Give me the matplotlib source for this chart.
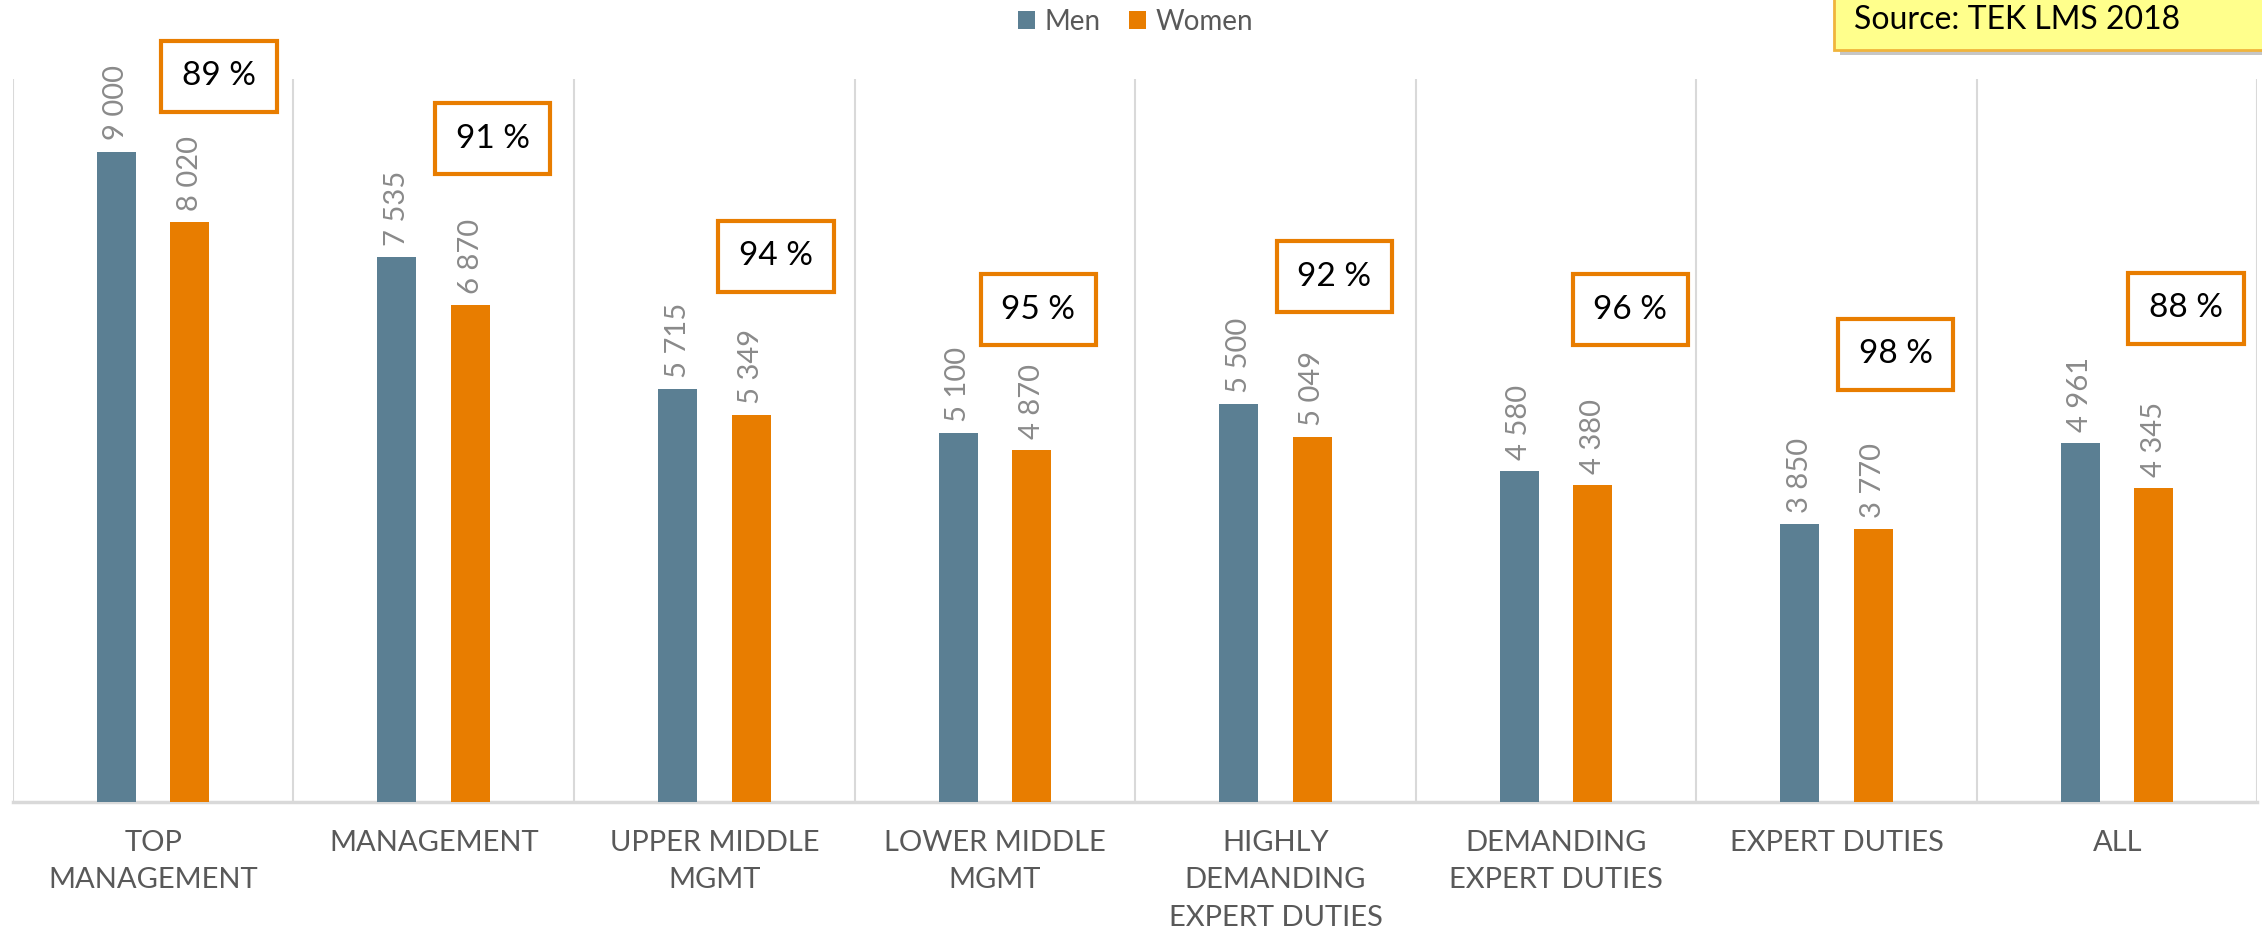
import numpy as np
import matplotlib
matplotlib.use('Agg')
import matplotlib.pyplot as plt
from matplotlib.patches import Rectangle

plt.rcParams['font.family'] = ['Lato', 'DejaVu Sans']

categories = ['TOP\nMANAGEMENT', 'MANAGEMENT', 'UPPER MIDDLE\nMGMT', 'LOWER MIDDLE\nMGMT',
              'HIGHLY\nDEMANDING\nEXPERT DUTIES', 'DEMANDING\nEXPERT DUTIES', 'EXPERT DUTIES', 'ALL']
men = [9000, 7535, 5715, 5100, 5500, 4580, 3850, 4961]
women = [8020, 6870, 5349, 4870, 5049, 4380, 3770, 4345]
source_text = 'Source: TEK LMS 2018'

# where the orange % boxes sit (x offset from category centre, y in data units)
box_dx = [0.235, 0.21, 0.22, 0.155, 0.21, 0.265, 0.21, 0.245]
box_y = [10040, 9180, 7550, 6810, 7270, 6810, 6195, 6830]

men_c = '#5B7F93'
women_c = '#E87D00'
grid_c = '#D9D9D9'
txt_c = '#595959'

def fmt(v):
    return '{:,}'.format(v).replace(',', ' ')

fig = plt.figure(figsize=(22.62, 9.36), dpi=100)
ax = fig.add_axes([0.0057, 0.1433, 0.9923, 0.772])

x = np.arange(len(categories))
w = 0.139
off = 0.131
b1 = ax.bar(x - off, men, w, color=men_c, label='Men', zorder=3)
b2 = ax.bar(x + off, women, w, color=women_c, label='Women', zorder=3)

for bars, vals in ((b1, men), (b2, women)):
    for r, v in zip(bars, vals):
        ax.annotate(fmt(v), (r.get_x() + r.get_width() / 2, v), xytext=(0, 8),
                    textcoords='offset points', rotation=90, ha='center', va='bottom',
                    fontsize=21, color='#8A8A8A')

for i in range(len(categories)):
    pct = round(100 * women[i] / men[i])
    ax.text(i + box_dx[i], box_y[i], '%d %%' % pct, ha='center', va='center',
            fontsize=24, color='black', clip_on=False, zorder=5,
            bbox=dict(boxstyle='square,pad=0.62', fc='white', ec=women_c, lw=3))

ax.set_xlim(-0.5, len(categories) - 0.5)
ax.set_ylim(0, 10000)
ax.set_yticks([])
for b in np.arange(-0.5, len(categories), 1.0):
    ax.axvline(b, color=grid_c, lw=1.5, zorder=1)
for s in ['top', 'right', 'left']:
    ax.spines[s].set_visible(False)
ax.spines['bottom'].set_color(grid_c)
ax.spines['bottom'].set_linewidth(2.5)
ax.set_xticks(x)
ax.set_xticklabels(categories, fontsize=21, color=txt_c, linespacing=1.55, va='top')
ax.tick_params(axis='x', length=0, pad=20)

fig.legend(handles=[b1, b2], loc='center', bbox_to_anchor=(0.502, 0.977), ncol=2,
           frameon=False, fontsize=20, labelcolor=txt_c, handlelength=0.62,
           handleheight=0.62, handletextpad=0.35, columnspacing=1.0)

# source note box at top right
fig.patches.append(Rectangle((0.8135, 0.9415), 0.25, 0.1, transform=fig.transFigure,
                             fc='#A0A0A0', ec='none', alpha=0.6, zorder=0))
fig.patches.append(Rectangle((0.811, 0.9466), 0.25, 0.1, transform=fig.transFigure,
                             fc='#FFFF8C', ec='#F0B43C', lw=2, zorder=1))
fig.text(0.8195, 0.969, source_text, fontsize=23, color='black', va='baseline', zorder=2)

fig.savefig('out.png', dpi=100, facecolor='white')
